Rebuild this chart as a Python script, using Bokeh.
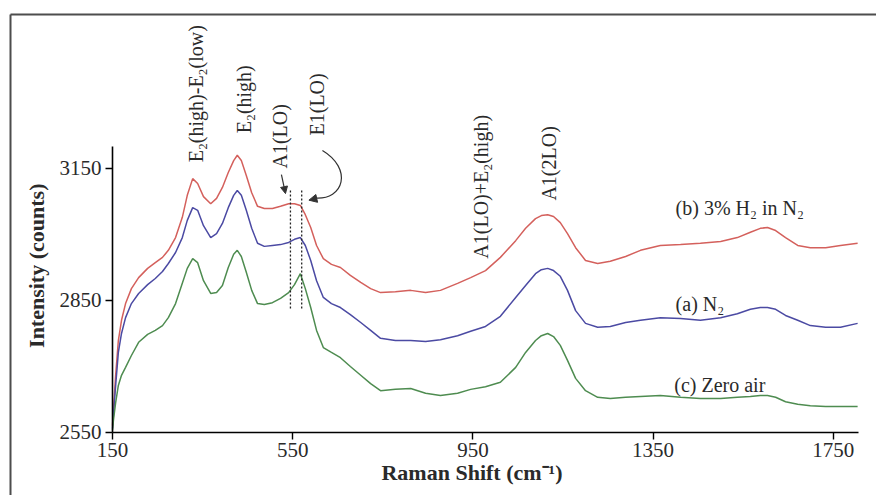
import math

from bokeh.core.properties import value
from bokeh.embed import file_html
from bokeh.models import (Arrow, ColumnDataSource, FixedTicker, LinearAxis,
                          NormalHead, Range1d)
from bokeh.plotting import figure
from bokeh.resources import INLINE

# Raman shift (cm^-1) sample positions
raman_shift = [150, 152, 157, 163, 170, 179, 192, 208, 228, 245, 261, 274, 290,
               305, 316, 328, 339, 352, 368, 381, 394, 407, 419, 427, 436, 447,
               459, 472, 487, 505, 523, 541, 554, 567, 578, 590, 603, 618, 636,
               656, 678, 701, 723, 745, 778, 812, 845, 878, 916, 945, 978, 1011,
               1045, 1067, 1089, 1102, 1116, 1129, 1144, 1160, 1178, 1200, 1227,
               1255, 1289, 1322, 1366, 1411, 1455, 1500, 1537, 1566, 1588, 1604,
               1622, 1644, 1671, 1699, 1733, 1766, 1804]

# (b) 3% H2 in N2
counts_h2 = [2566, 2600, 2680, 2759, 2805, 2843, 2877, 2902, 2923, 2936, 2948,
             2964, 2993, 3039, 3089, 3127, 3116, 3086, 3070, 3082, 3107, 3141,
             3168, 3180, 3168, 3134, 3095, 3064, 3059, 3059, 3064, 3070, 3070,
             3066, 3045, 3016, 2975, 2945, 2932, 2925, 2907, 2891, 2877, 2868,
             2870, 2873, 2868, 2873, 2889, 2902, 2918, 2948, 2986, 3014, 3036,
             3043, 3045, 3041, 3027, 3002, 2970, 2941, 2934, 2939, 2950, 2964,
             2975, 2977, 2980, 2984, 2993, 3005, 3014, 3016, 3009, 2993, 2975,
             2970, 2970, 2975, 2980]

# (a) N2
counts_n2 = [2559, 2589, 2657, 2732, 2775, 2811, 2843, 2866, 2886, 2900, 2916,
             2934, 2959, 2993, 3032, 3061, 3055, 3020, 2993, 3002, 3025, 3061,
             3089, 3100, 3089, 3055, 3014, 2980, 2973, 2975, 2977, 2982, 2989,
             2993, 2975, 2941, 2895, 2857, 2843, 2834, 2818, 2800, 2782, 2764,
             2759, 2759, 2757, 2761, 2770, 2780, 2791, 2814, 2857, 2884, 2911,
             2920, 2923, 2918, 2905, 2873, 2827, 2798, 2789, 2791, 2800, 2805,
             2811, 2809, 2805, 2811, 2820, 2830, 2834, 2834, 2830, 2816, 2805,
             2793, 2789, 2789, 2798]

# (c) Zero air
counts_air = [2555, 2577, 2618, 2657, 2680, 2698, 2725, 2755, 2773, 2782, 2793,
              2811, 2843, 2889, 2923, 2945, 2936, 2895, 2866, 2868, 2884, 2925,
              2955, 2964, 2950, 2914, 2873, 2843, 2841, 2845, 2855, 2868, 2886,
              2911, 2877, 2834, 2782, 2743, 2732, 2720, 2700, 2680, 2661, 2645,
              2648, 2650, 2639, 2634, 2639, 2648, 2654, 2664, 2698, 2732, 2759,
              2770, 2775, 2768, 2748, 2714, 2673, 2645, 2630, 2627, 2630, 2632,
              2634, 2630, 2627, 2627, 2630, 2632, 2634, 2634, 2630, 2620, 2614,
              2611, 2609, 2609, 2609]

x_ticks = [150, 550, 950, 1350, 1750]
y_ticks = [2550, 2850, 3150]

# Mode assignments (rotated labels) and their anchor points
mode_labels = ["E\u2082(high)-E\u2082(low)", "E\u2082(high)", "A1(LO)", "E1(LO)",
               "A1(LO)+E\u2082(high)", "A1(2LO)"]
mode_x = [336, 443, 521, 605, 969, 1118]
mode_y = [3164, 3230, 3150, 3225, 2945, 3077]

# Trace names
trace_labels = ["(b) 3% H\u2082 in N\u2082", "(a) N\u2082", "(c) Zero air"]
trace_x = [1400, 1400, 1397]
trace_y = [3061, 2841, 2659]

# Dotted markers for A1(LO) and E1(LO)
marker_x = [545, 570]
marker_y0 = [2832, 2832]
marker_y1 = [3100, 3100]

SERIF = "Liberation Serif"
TXT = "#2a2a2a"

# The plotting frame fills the whole canvas; axes sit at fixed data locations
p = figure(width=876, height=495, output_backend="svg", toolbar_location=None,
           x_range=Range1d(-98.6, 1845.9), y_range=Range1d(2406.8, 3531.8),
           x_axis_type=None, y_axis_type=None, min_border=0)
p.outline_line_color = None
p.grid.visible = False
p.background_fill_color = "white"
p.border_fill_color = "white"

xaxis = LinearAxis(ticker=FixedTicker(ticks=x_ticks), bounds=(150, 1805),
                   fixed_location=2550)
yaxis = LinearAxis(ticker=FixedTicker(ticks=y_ticks), bounds=(2550, 3200),
                   fixed_location=150)
for ax in (xaxis, yaxis):
    ax.axis_line_color = "black"
    ax.axis_line_width = 1.6
    ax.major_tick_line_color = "black"
    ax.major_tick_line_width = 1.4
    ax.major_tick_out = 7
    ax.major_tick_in = 0
    ax.minor_tick_line_color = None
    ax.major_label_text_font = SERIF
    ax.major_label_text_font_size = "21px"
    ax.major_label_text_color = TXT
    ax.major_label_standoff = 4
p.add_layout(xaxis, "below")
p.add_layout(yaxis, "left")

# Outer frame (top and left edges)
p.segment(x0=[-76.4, -76.4], y0=[3500, 3500], x1=[1846, -76.4], y1=[3500, 2400],
          line_color="#4d4d4d", line_width=2)

# Axis titles
p.text(x=[948], y=[2459], text=["Raman Shift (cm\u207B\u00B9)"],
       text_font=value(SERIF), text_font_style="bold", text_font_size="22px",
       text_color=TXT, text_align="center", text_baseline="middle")
p.text(x=[-18.7], y=[2929], text=["Intensity (counts)"], angle=math.pi / 2,
       text_font=value(SERIF), text_font_style="bold", text_font_size="22px",
       text_color=TXT, text_align="center", text_baseline="middle")

# Spectra
src = ColumnDataSource(dict(x=raman_shift, b=counts_h2, a=counts_n2, c=counts_air))
p.line("x", "b", source=src, line_color="#d4605c", line_width=1.5)
p.line("x", "a", source=src, line_color="#4b4aa3", line_width=1.5)
p.line("x", "c", source=src, line_color="#4e8c50", line_width=1.5)

# Dotted guide lines
p.segment(x0=marker_x, y0=marker_y0, x1=marker_x, y1=marker_y1,
          line_color="#222222", line_width=1.3, line_dash="2 2")

# Mode labels
p.text(x=mode_x, y=mode_y, text=mode_labels, angle=math.pi / 2,
       text_font=value(SERIF), text_font_size="20px", text_color=TXT,
       text_align="left", text_baseline="middle")

# Trace labels
p.text(x=trace_x, y=trace_y, text=trace_labels,
       text_font=value(SERIF), text_font_size="20px", text_color=TXT,
       text_align="left", text_baseline="middle")

# Arrow from A1(LO)
p.add_layout(Arrow(x_start=525, y_start=3136, x_end=534, y_end=3093,
                   line_color="#333333", line_width=1.2,
                   end=NormalHead(size=7, fill_color="#333333",
                                  line_color="#333333")))
# Curved arrow from E1(LO)
p.bezier(x0=[616], y0=[3191], x1=[598], y1=[3083],
         cx0=[683], cy0=[3150], cx1=[665], cy1=[3077],
         line_color="#333333", line_width=1.2)
p.add_layout(Arrow(x_start=612, y_start=3084, x_end=586, y_end=3078,
                   line_color="#333333", line_width=0.01,
                   end=NormalHead(size=8, fill_color="#333333",
                                  line_color="#333333")))

open("out.html", "w").write(file_html(p, INLINE))
